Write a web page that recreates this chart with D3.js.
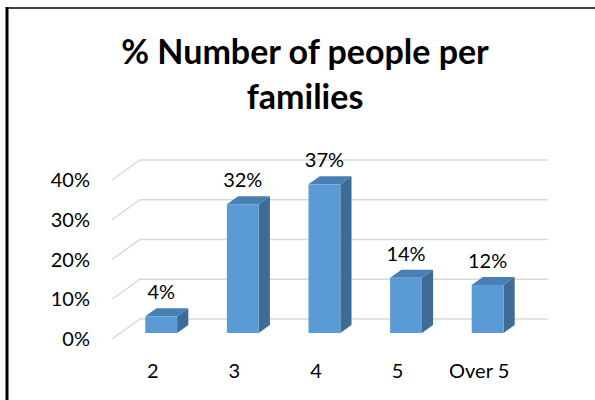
<!DOCTYPE html>
<html>
<head>
<meta charset="utf-8">
<script src="https://cdn.jsdelivr.net/npm/d3@7/dist/d3.min.js"></script>
<style>
  html, body { margin: 0; padding: 0; background: #fff; }
  svg { display: block; }
  text { font-family: Lato, "Open Sans", sans-serif; fill: #000; }
</style>
</head>
<body>
<script>
// ---- data ----
const categories = ["2", "3", "4", "5", "Over 5"];
const values = [0.042, 0.324, 0.374, 0.139, 0.121];
const yTicks = [0, 0.1, 0.2, 0.3, 0.4];
const titleLines = ["% Number of people per", "families"];

const W = 595, H = 400;
const svg = d3.select("body").append("svg").attr("width", W).attr("height", H);

// frame
svg.append("line").attr("x1", 7).attr("x2", W).attr("y1", 8).attr("y2", 8)
  .attr("stroke", "#444").attr("stroke-width", 2);
svg.append("line").attr("x1", 7).attr("x2", 7).attr("y1", 7).attr("y2", H)
  .attr("stroke", "#000").attr("stroke-width", 3);

// title
const title = svg.append("text").attr("text-anchor", "middle")
  .style("font-weight", "bold").style("font-size", "34px");
titleLines.forEach((t, i) => {
  title.append("tspan").attr("x", 305).attr("y", 64 + i * 45).text(t);
});

// 3D projection: depth vector
const DX = 28, DY = -20;
const x = d3.scaleBand().domain(categories).range([112, 520]);
const y = d3.scaleLinear().domain([0, 0.4]).range([339, 180]);

// gridlines (floor-edge diagonal + back wall)
const grid = svg.append("g").attr("stroke", "#d9d9d9").attr("stroke-width", 1.5).attr("fill", "none");
grid.selectAll("path").data(yTicks).join("path")
  .attr("d", d => `M${x.range()[0]},${y(d)} L${x.range()[0] + DX},${y(d) + DY} H${x.range()[1] + DX}`);

// tick labels
svg.append("g").selectAll("text").data(yTicks).join("text")
  .attr("x", 90).attr("y", d => y(d) + 2)
  .attr("text-anchor", "end").attr("dominant-baseline", "middle")
  .style("font-size", "20px")
  .text(d3.format(".0%"));

// bars
const d0 = 0.3, d1 = 0.7; // depth fractions
const bw = x.bandwidth() * 0.39;
const bars = svg.append("g").selectAll("g").data(categories.map((c, i) => ({ c, v: values[i] }))).join("g");
function fx(d) { return x(d.c) + x.bandwidth() / 2 - bw / 2 + DX * d0; }
const ddx = DX * (d1 - d0), ddy = DY * (d1 - d0);
bars.each(function (d) {
  const g = d3.select(this);
  const x0 = fx(d), x1 = x0 + bw;
  const yb = y(0) + DY * d0, yt = y(d.v) + DY * d0;
  // side
  g.append("path").attr("fill", "#3e6c97")
    .attr("d", `M${x1},${yb} L${x1 + ddx},${yb + ddy} L${x1 + ddx},${yt + ddy} L${x1},${yt} Z`);
  // top
  g.append("path").attr("fill", "#4a7fb5")
    .attr("d", `M${x0},${yt} L${x1},${yt} L${x1 + ddx},${yt + ddy} L${x0 + ddx},${yt + ddy} Z`);
  // front
  g.append("rect").attr("fill", "#5b9bd5")
    .attr("x", x0).attr("y", yt).attr("width", bw).attr("height", yb - yt);
  // label
  g.append("text").attr("x", x0 + bw / 2).attr("y", yt - 17)
    .attr("text-anchor", "middle").style("font-size", "20px")
    .text(d3.format(".0%")(d.v));
});

// category labels
svg.append("g").selectAll("text").data(categories).join("text")
  .attr("x", d => x(d) + x.bandwidth() / 2).attr("y", 378)
  .attr("text-anchor", "middle").style("font-size", "20px")
  .text(d => d);
</script>
</body>
</html>
